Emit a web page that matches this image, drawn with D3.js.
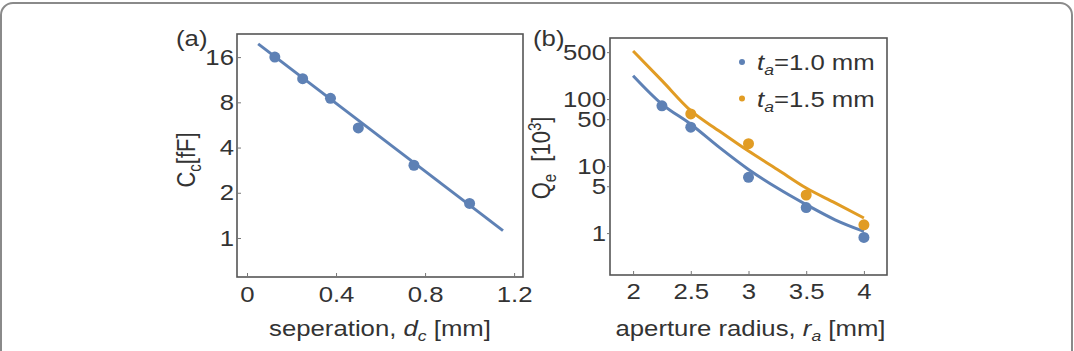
<!DOCTYPE html>
<html><head><meta charset="utf-8">
<script src="https://cdn.jsdelivr.net/npm/d3@7"></script>
<style>
html,body{margin:0;padding:0;background:#fff;}
svg{display:block;}
text{font-family:"Liberation Sans",Arial,Helvetica,sans-serif;fill:#333;}
</style></head>
<body>
<svg id="chart" width="1074" height="351"></svg>
<script>
// ---- Data: panel (a)
const sepX = [0.125, 0.25, 0.375, 0.5, 0.75, 1.0];
const capC = [16, 11.5, 8.5, 5.4, 3.05, 1.7];
const capFitX = [0.05, 1.15];
const capFitC = [19.6, 1.12];
const aTicksX = [0, 0.4, 0.8, 1.2];
const aTicksY = [1, 2, 4, 8, 16];
// ---- Data: panel (b)
const radius1 = [2.25, 2.5, 3, 3.5, 4];
const q1 = [79, 38, 6.8, 2.4, 0.86];
const radius2 = [2.5, 3, 3.5, 4];
const q2 = [60, 21.6, 3.7, 1.33];
const fitR = [2, 2.25, 2.5, 2.75, 3, 3.25, 3.5, 3.75, 4];
const fitQ1 = [223, 84, 42, 18.8, 8.9, 4.7, 2.66, 1.58, 1.06];
const fitQ2 = [520, 188, 67, 33, 16.7, 8.9, 4.7, 2.82, 1.68];
const bTicksX = [2, 2.5, 3, 3.5, 4];
const bTicksY = [1, 5, 10, 50, 100, 500];
const seriesNames = ["1.0 mm", "1.5 mm"];

const BLUE = "#5e81b5", ORANGE = "#e19c24";
const FS = 22, SUB = 15, SX = 1.17;
const svg = d3.select("#chart");

// outer frame
svg.append("rect").attr("x", 1).attr("y", 3).attr("width", 1071).attr("height", 420)
  .attr("rx", 12).attr("fill", "none").attr("stroke", "#8a8a8a").attr("stroke-width", 2);

function frame(g, x0, y0, x1, y1) {
  g.append("rect").attr("x", x0).attr("y", y0).attr("width", x1 - x0).attr("height", y1 - y0)
    .attr("fill", "none").attr("stroke", "#555").attr("stroke-width", 1.6);
}
function styleAxis(g) {
  g.select(".domain").remove();
  g.selectAll(".tick line").attr("stroke", "#777").attr("stroke-width", 1);
  g.selectAll(".tick text").attr("font-size", FS).attr("fill", "#333")
    .style("font-family", '"Liberation Sans",Arial,sans-serif');
}
// stretched text helper: anchor point (x,y), optional rotation
function label(x, y, anchor, rot) {
  const tr = `translate(${x},${y}) scale(${SX},1)` + (rot ? ` rotate(${rot})` : "");
  return svg.append("text").attr("transform", tr).attr("font-size", FS).attr("text-anchor", anchor);
}

// ---------- Panel (a)
const A = {l: 237, t: 34, r: 523, b: 277};
const xa = d3.scaleLinear().domain([-0.045, 1.24]).range([A.l, A.r]);
const ya = d3.scaleLog().base(2).domain([0.55, 22.8]).range([A.b, A.t]);
const ga = svg.append("g");
frame(ga, A.l, A.t, A.r, A.b);
ga.append("g").attr("transform", `translate(0,${A.b})`)
  .call(d3.axisBottom(xa).tickValues(aTicksX).tickFormat(d => d === 0 ? "0" : d3.format(".1f")(d))
    .tickSizeInner(-4).tickSizeOuter(0).tickPadding(9)).call(styleAxis);
ga.append("g").attr("transform", `translate(${A.l},0)`)
  .call(d3.axisLeft(ya).tickValues(aTicksY).tickFormat(d3.format("d"))
    .tickSizeInner(-4).tickSizeOuter(0).tickPadding(3)).call(styleAxis);
ga.append("path").datum(capFitX.map((x, i) => [x, capFitC[i]]))
  .attr("d", d3.line().x(d => xa(d[0])).y(d => ya(d[1])))
  .attr("fill", "none").attr("stroke", BLUE).attr("stroke-width", 3);
ga.selectAll("circle.pa").data(sepX.map((x, i) => [x, capC[i]])).enter().append("circle")
  .attr("cx", d => xa(d[0])).attr("cy", d => ya(d[1])).attr("r", 5.5).attr("fill", BLUE);

// ---------- Panel (b)
const B = {l: 610, t: 38, r: 887, b: 275};
const xb = d3.scaleLinear().domain([1.8, 4.2]).range([B.l, B.r]);
const yb = d3.scaleLog().domain([0.237, 813]).range([B.b, B.t]);
const gb = svg.append("g");
frame(gb, B.l, B.t, B.r, B.b);
gb.append("g").attr("transform", `translate(0,${B.b})`)
  .call(d3.axisBottom(xb).tickValues(bTicksX).tickFormat(d => String(d))
    .tickSizeInner(-4).tickSizeOuter(0).tickPadding(8)).call(styleAxis);
gb.append("g").attr("transform", `translate(${B.l},0)`)
  .call(d3.axisLeft(yb).tickValues(bTicksY).tickFormat(d3.format("d"))
    .tickSizeInner(3).tickSizeOuter(0).tickPadding(1)).call(styleAxis);

const curve = d3.line().x(d => xb(d[0])).y(d => yb(d[1])).curve(d3.curveMonotoneX);
gb.append("path").datum(fitR.map((x, i) => [x, fitQ2[i]])).attr("d", curve)
  .attr("fill", "none").attr("stroke", ORANGE).attr("stroke-width", 3);
gb.append("path").datum(fitR.map((x, i) => [x, fitQ1[i]])).attr("d", curve)
  .attr("fill", "none").attr("stroke", BLUE).attr("stroke-width", 3);
gb.selectAll("circle.p1").data(radius1.map((x, i) => [x, q1[i]])).enter().append("circle")
  .attr("cx", d => xb(d[0])).attr("cy", d => yb(d[1])).attr("r", 5.5).attr("fill", BLUE);
gb.selectAll("circle.p2").data(radius2.map((x, i) => [x, q2[i]])).enter().append("circle")
  .attr("cx", d => xb(d[0])).attr("cy", d => yb(d[1])).attr("r", 5.5).attr("fill", ORANGE);

// stretch all tick labels horizontally
svg.selectAll(".tick text").each(function () {
  const t = d3.select(this);
  t.attr("transform", `scale(${SX},1)`);
  const x = +t.attr("x") || 0;
  t.attr("x", x / SX);
});

// ---------- labels (a)
label(176, 46, "start").text("(a)");
const xta = label((A.l + A.r) / 2, 336, "middle");
xta.append("tspan").text("seperation, ");
xta.append("tspan").attr("font-style", "italic").text("d");
xta.append("tspan").attr("font-style", "italic").attr("font-size", SUB).attr("dy", 5).text("c");
xta.append("tspan").attr("dy", -5).text(" [mm]");
const yta = label(195, 160, "middle", -90);
yta.append("tspan").text("C");
yta.append("tspan").attr("font-size", SUB).attr("dy", 5).text("c");
yta.append("tspan").attr("dy", -5).text("[fF]");

// ---------- labels (b)
[BLUE, ORANGE].forEach((c, i) => {
  const ly = 62 + i * 36.5;
  svg.append("circle").attr("cx", 742).attr("cy", ly).attr("r", 3).attr("fill", c);
  const t = label(757, ly + 8, "start");
  t.append("tspan").attr("font-style", "italic").text("t");
  t.append("tspan").attr("font-style", "italic").attr("font-size", SUB).attr("dy", 5).text("a");
  t.append("tspan").attr("dy", -5).text("=" + seriesNames[i]);
});
label(533, 46, "start").text("(b)");
const xtb = label((B.l + B.r) / 2 + 2, 336, "middle");
xtb.append("tspan").text("aperture radius, ");
xtb.append("tspan").attr("font-style", "italic").text("r");
xtb.append("tspan").attr("font-style", "italic").attr("font-size", SUB).attr("dy", 5).text("a");
xtb.append("tspan").attr("dy", -5).text(" [mm]");
const ytb = label(550, 158, "middle", -90);
ytb.append("tspan").text("Q");
ytb.append("tspan").attr("font-size", SUB).attr("dy", 5).text("e");
ytb.append("tspan").attr("dy", -5).text("\u00a0\u00a0[10");
ytb.append("tspan").attr("font-size", SUB).attr("dy", -8).text("3");
ytb.append("tspan").attr("dy", 8).text("]");
</script>
</body></html>
